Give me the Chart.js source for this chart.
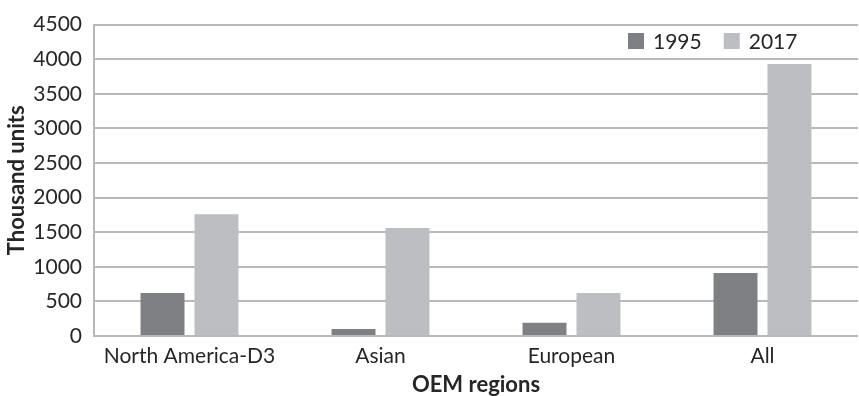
<!DOCTYPE html>
<html>
<head>
<meta charset="utf-8">
<script src="https://cdn.jsdelivr.net/npm/chart.js@4/dist/chart.umd.min.js"></script>
<style>
  html, body { margin: 0; padding: 0; background: #ffffff; }
  #wrap { width: 859px; height: 396px; }
</style>
</head>
<body>
<div id="wrap"><canvas id="c" width="859" height="396"></canvas></div>
<script>
// OEM production, thousand units
const regions = ['North America-D3', 'Asian', 'European', 'All'];
const units1995 = [620, 100, 190, 910];
const units2017 = [1760, 1560, 620, 3930];
const seriesNames = ['1995', '2017'];
const yTicks = [0, 500, 1000, 1500, 2000, 2500, 3000, 3500, 4000, 4500];

const FONT = 'Lato, "Open Sans", sans-serif';
const TEXT = '#262626';

// Legend drawn in the upper right of the plot area
const cornerLegend = {
  id: 'cornerLegend',
  afterDraw(chart) {
    const ctx = chart.ctx;
    ctx.save();
    ctx.font = '21px ' + FONT;
    ctx.textBaseline = 'middle';
    ctx.textAlign = 'left';
    let x = 628;
    const y = 41;
    chart.data.datasets.forEach(ds => {
      ctx.fillStyle = ds.backgroundColor;
      ctx.fillRect(x, y - 8, 16, 16);
      ctx.fillStyle = TEXT;
      ctx.fillText(ds.label, x + 25, y + 1);
      x += 25 + ctx.measureText(ds.label).width + 22;
    });
    ctx.restore();
  }
};

// Category axis title, centred under the plot area
const xTitle = {
  id: 'xTitle',
  afterDraw(chart) {
    const ctx = chart.ctx;
    const area = chart.chartArea;
    ctx.save();
    ctx.font = 'bold 22px ' + FONT;
    ctx.fillStyle = TEXT;
    ctx.textAlign = 'center';
    ctx.textBaseline = 'middle';
    ctx.fillText('OEM regions', (area.left + area.right) / 2, 385);
    ctx.restore();
  }
};

new Chart(document.getElementById('c'), {
  type: 'bar',
  data: {
    labels: regions,
    datasets: [
      { label: seriesNames[0], data: units1995, backgroundColor: '#7f8084' },
      { label: seriesNames[1], data: units2017, backgroundColor: '#bdbec2' }
    ]
  },
  options: {
    responsive: false,
    animation: false,
    devicePixelRatio: 1,
    layout: { padding: { top: 23, right: 1, left: 0, bottom: 0 } },
    datasets: {
      bar: { categoryPercentage: 0.565, barPercentage: 0.815 }
    },
    plugins: {
      legend: { display: false },
      tooltip: { enabled: false }
    },
    scales: {
      x: {
        grid: { display: false, drawTicks: false },
        border: { display: false },
        ticks: { color: TEXT, font: { family: FONT, size: 21 }, padding: 8, maxRotation: 0, autoSkip: false },
        afterFit(scale) { scale.height = 60; }
      },
      y: {
        min: 0,
        max: 4500,
        afterBuildTicks(scale) { scale.ticks = yTicks.map(v => ({ value: v })); },
        grid: { color: '#b8b8b8', lineWidth: 2, drawTicks: false },
        border: { display: true, color: '#b8b8b8', width: 2 },
        ticks: { color: TEXT, font: { family: FONT, size: 21 }, padding: 12, callback: v => String(v) },
        title: { display: true, text: 'Thousand units', color: TEXT, font: { family: FONT, size: 22, weight: 'bold' }, padding: { top: 4, bottom: 0 } },
        afterFit(scale) { scale.width = 94; }
      }
    }
  },
  plugins: [cornerLegend, xTitle]
});
</script>
</body>
</html>
